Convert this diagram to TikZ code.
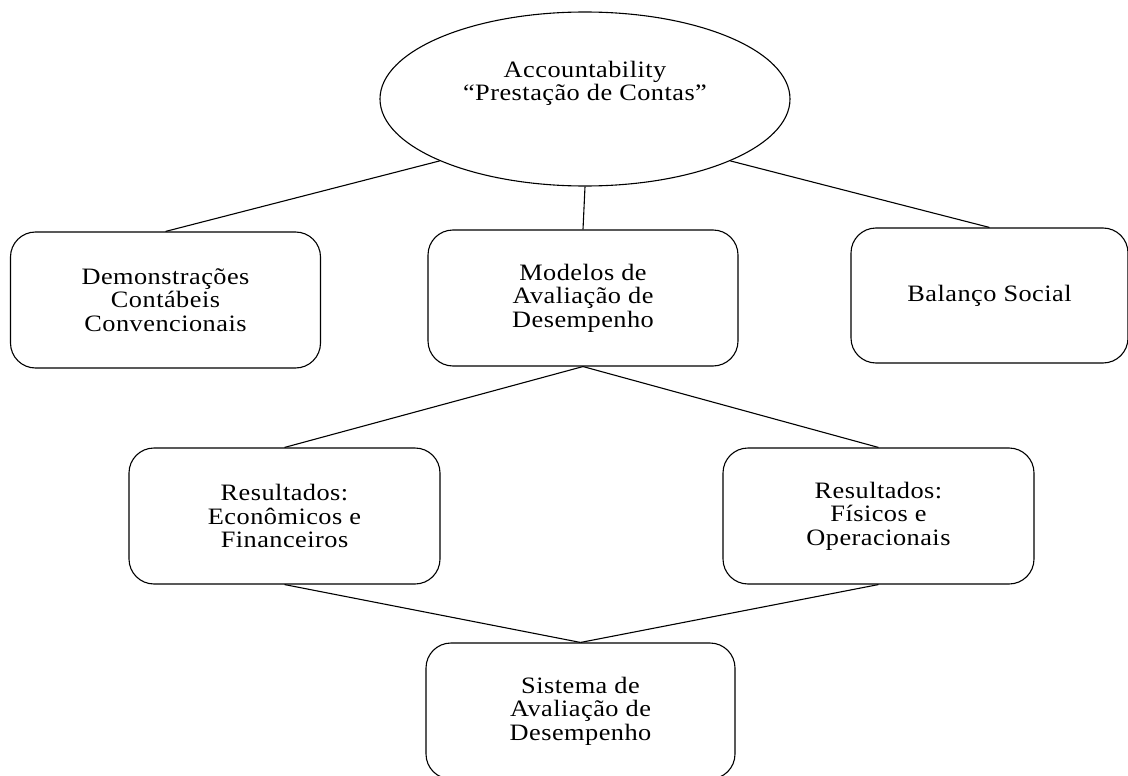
\documentclass[tikz,border=0pt]{standalone}
\usepackage{fontspec}
\setmainfont{Liberation Serif}[FakeStretch=1.12, LetterSpace=2]
\usetikzlibrary{shapes.geometric}

\begin{document}
\begin{tikzpicture}[x=1pt,y=-1pt,line width=1.1pt,
    caixa/.style={draw, rectangle, rounded corners=25pt, align=center,
      minimum width=310pt, minimum height=136pt,
      font=\fontsize{23.5pt}{23.5pt}\selectfont}]
  \useasboundingbox (0,0) rectangle (1128,776);

  \node[draw, ellipse, minimum width=410pt, minimum height=174pt,
    label={[yshift=15.5pt, align=center, font=\fontsize{23.5pt}{22.5pt}\selectfont]center:Accountability\\``Prestação de Contas''}](acc) at (585,99){};

  \node[caixa](dem) at (165.5,300){Demonstrações\\Contábeis\\Convencionais};
  \node[caixa](mod) at (583,298){Modelos de\\Avaliação de\\Desempenho};
  \node[caixa, minimum width=277pt, minimum height=135pt](bal) at (989.5,295.5){Balanço Social};

  \node[caixa, minimum width=311pt](eco) at (284.5,516){Resultados:\\Econômicos e\\Financeiros};
  \node[caixa, minimum width=311pt](fis) at (878.5,516){Resultados:\\Físicos e\\Operacionais};

  \node[caixa, minimum width=309pt](sis) at (580.5,711){Sistema de\\Avaliação de\\Desempenho};

  \draw(acc.south west)--(dem.north);
  \draw(acc.south)--(mod.north);
  \draw(acc.south east)--(bal.north);
  \draw(mod.south)--(eco.north);
  \draw(mod.south)--(fis.north);
  \draw(eco.south)--(sis.north);
  \draw(fis.south)--(sis.north);

\end{tikzpicture}
\end{document}
